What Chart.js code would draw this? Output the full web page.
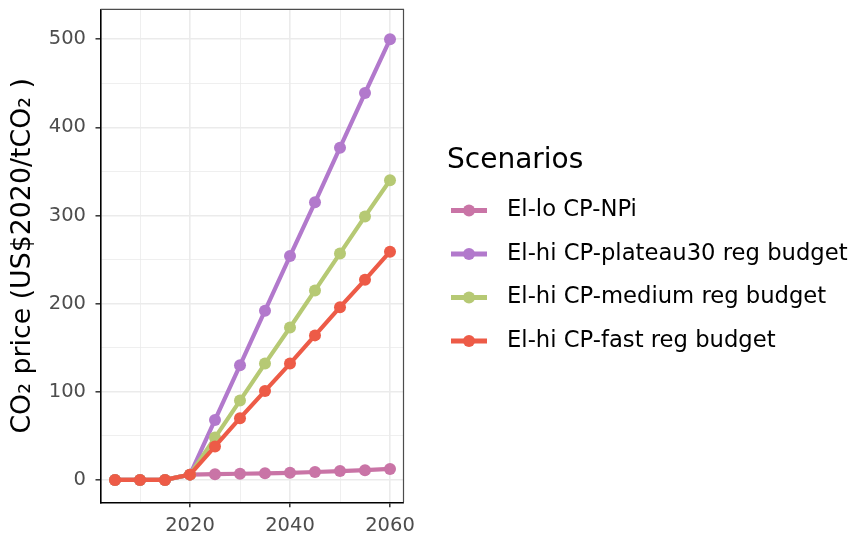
<!DOCTYPE html>
<html>
<head>
<meta charset="utf-8">
<script src="https://cdn.jsdelivr.net/npm/chart.js@4"></script>
<style>
    body { margin: 0; background: #fff; }
    canvas { display: block; }
</style>
</head>
<body>
<canvas id="priceChart" width="850" height="536"></canvas>
<script>
// data
const years = [2005, 2010, 2015, 2020, 2025, 2030, 2035, 2040, 2045, 2050, 2055, 2060];
const npi      = [0, 0, 0, 6, 6.5, 7, 7.5, 8, 9, 10, 11, 12.5];
const plateau  = [0, 0, 0, 6, 68, 130, 192, 254, 315, 377, 439, 500];
const medium   = [0, 0, 0, 6, 48, 90, 132, 173, 215, 257, 299, 340];
const fast     = [0, 0, 0, 6, 38, 70, 101, 132, 164, 196, 227, 259];
const scenarioNames = ['El-lo CP-NPi', 'El-hi CP-plateau30 reg budget', 'El-hi CP-medium reg budget', 'El-hi CP-fast reg budget'];
const scenarioColors = ['#c974a6', '#b279cc', '#b6c974', '#ed5b47'];

const xTicks = [2010, 2020, 2030, 2040, 2050, 2060];
const xLabels = [2020, 2040, 2060];
const yTicks = [0, 50, 100, 150, 200, 250, 300, 350, 400, 450, 500];
const yLabels = [0, 100, 200, 300, 400, 500];

const FONT = "'DejaVu Sans', sans-serif";

function series(values) {
    return years.map((yr, i) => ({ x: yr, y: values[i] }));
}

function gridOpts(major) {
    return {
        color: '#ebebeb',
        lineWidth: ctx => major.includes(ctx.tick.value) ? 1.6 : 0.8,
        tickColor: ctx => major.includes(ctx.tick.value) ? '#333333' : 'rgba(0,0,0,0)',
        tickLength: 5,
        tickWidth: 1.5
    };
}

// panel border (top + right) and the legend on the right
const panelAndLegend = {
    id: 'panelAndLegend',
    afterDatasetsDraw(chart) {
        const { ctx, chartArea: a } = chart;
        ctx.save();
        ctx.strokeStyle = '#4d4d4d';
        ctx.lineWidth = 1.2;
        ctx.beginPath();
        ctx.moveTo(a.left, a.top);
        ctx.lineTo(a.right, a.top);
        ctx.lineTo(a.right, a.bottom);
        ctx.stroke();
        ctx.restore();
    },
    afterDraw(chart) {
        const ctx = chart.ctx;
        ctx.save();
        ctx.fillStyle = '#000';
        ctx.textBaseline = 'middle';
        ctx.font = `28px ${FONT}`;
        ctx.fillText('Scenarios', 447, 161);
        ctx.font = `22.7px ${FONT}`;
        chart.data.datasets.forEach((ds, i) => {
            const y = 210.5 + i * 43.5;
            ctx.strokeStyle = ds.borderColor;
            ctx.lineWidth = 5;
            ctx.beginPath();
            ctx.moveTo(451, y);
            ctx.lineTo(487, y);
            ctx.stroke();
            ctx.fillStyle = ds.borderColor;
            ctx.beginPath();
            ctx.arc(469, y, 6, 0, Math.PI * 2);
            ctx.fill();
            ctx.fillStyle = '#000';
            ctx.fillText(ds.label, 507, y);
        });
        ctx.restore();
    }
};

const seriesValues = [npi, plateau, medium, fast];

new Chart(document.getElementById('priceChart'), {
    type: 'line',
    data: {
        datasets: seriesValues.map((vals, i) => ({
            label: scenarioNames[i],
            data: series(vals),
            borderColor: scenarioColors[i],
            backgroundColor: scenarioColors[i],
            pointBackgroundColor: scenarioColors[i],
            borderWidth: 4.2,
            pointRadius: 6,
            pointBorderWidth: 0,
            tension: 0,
            order: 4 - i
        }))
    },
    options: {
        responsive: false,
        animation: false,
        layout: { padding: { top: 9.3, right: 446.5, left: 0, bottom: 0 } },
        plugins: {
            legend: { display: false },
            tooltip: { enabled: false }
        },
        scales: {
            x: {
                type: 'linear',
                min: 2002.1,
                max: 2062.7,
                afterBuildTicks: s => { s.ticks = xTicks.map(v => ({ value: v })); },
                afterFit: s => { s.height = 33.7; s.paddingLeft = 0; s.paddingRight = 0; },
                grid: gridOpts(xLabels),
                border: { color: '#000', width: 1.6 },
                ticks: {
                    color: '#4d4d4d',
                    font: { family: FONT, size: 19.5 },
                    padding: 6.5,
                    maxRotation: 0,
                    callback: v => xLabels.includes(v) ? String(v) : ''
                }
            },
            y: {
                min: -25.4,
                max: 534,
                afterBuildTicks: s => { s.ticks = yTicks.map(v => ({ value: v })); },
                afterFit: s => { s.width = 100.5; s.paddingTop = 0; s.paddingBottom = 0; },
                grid: gridOpts(yLabels),
                border: { color: '#000', width: 1.6 },
                ticks: {
                    color: '#4d4d4d',
                    font: { family: FONT, size: 19.5 },
                    padding: 9.5,
                    callback: v => yLabels.includes(v) ? String(v) : ''
                },
                title: {
                    display: true,
                    text: 'CO\u2082 price (US$2020/tCO\u2082 )',
                    color: '#000',
                    font: { family: FONT, size: 26.8 },
                    padding: { top: 7, bottom: 0 }
                }
            }
        }
    },
    plugins: [panelAndLegend]
});
</script>
</body>
</html>
